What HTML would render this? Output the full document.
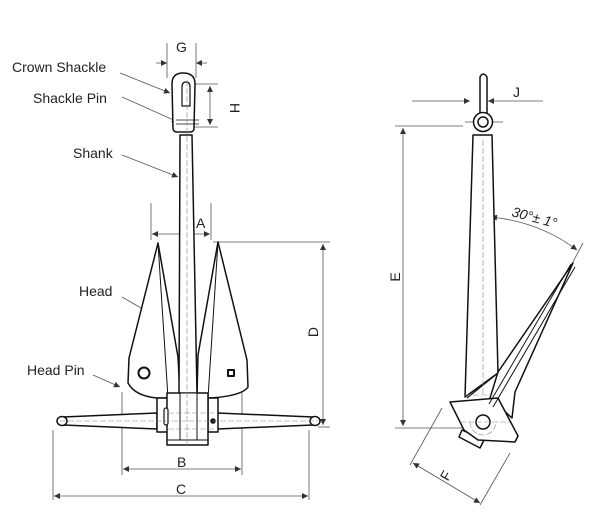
<!DOCTYPE html>
<html><head><style>
html,body{margin:0;padding:0;background:#fff;}
svg{display:block;}
text{font-family:"Liberation Sans",sans-serif;fill:#222;}
</style></head><body>
<svg width="600" height="519" viewBox="0 0 600 519" xmlns="http://www.w3.org/2000/svg">
<defs>
<marker id="ar" viewBox="0 0 10 10" refX="10" refY="5" markerWidth="9" markerHeight="6" orient="auto-start-reverse" markerUnits="userSpaceOnUse"><path d="M0,0 L10,5 L0,10 z" fill="#333"/></marker>
</defs>
<g stroke="#555" stroke-width="0.8" fill="none">
<line x1="167" y1="43" x2="167" y2="78"/><line x1="196" y1="43" x2="196" y2="78"/>
<line x1="156" y1="63" x2="167" y2="63" marker-end="url(#ar)"/>
<line x1="207" y1="63" x2="196" y2="63" marker-end="url(#ar)"/>
<line x1="190" y1="84" x2="218" y2="84"/><line x1="190" y1="127" x2="218" y2="127"/>
<line x1="210" y1="86" x2="210" y2="125" marker-start="url(#ar)" marker-end="url(#ar)"/>
<line x1="151" y1="203" x2="151" y2="240"/><line x1="211" y1="203" x2="211" y2="240"/>
<line x1="152" y1="234" x2="210" y2="234" marker-start="url(#ar)" marker-end="url(#ar)"/>
<line x1="213" y1="242" x2="330" y2="242"/><line x1="318" y1="427" x2="330" y2="427"/>
<line x1="323" y1="244" x2="323" y2="425" marker-start="url(#ar)" marker-end="url(#ar)"/>
<line x1="122" y1="392" x2="122" y2="475"/><line x1="242" y1="392" x2="242" y2="475"/>
<line x1="123" y1="469" x2="241" y2="469" marker-start="url(#ar)" marker-end="url(#ar)"/>
<line x1="53" y1="430" x2="53" y2="500"/><line x1="309" y1="430" x2="309" y2="500"/>
<line x1="54" y1="496" x2="308" y2="496" marker-start="url(#ar)" marker-end="url(#ar)"/>
<line x1="120" y1="73" x2="170" y2="93" marker-end="url(#ar)"/>
<line x1="122" y1="97" x2="178" y2="122" marker-end="url(#ar)"/>
<line x1="122" y1="155" x2="178" y2="177" marker-end="url(#ar)"/>
<line x1="122" y1="297" x2="148" y2="312" marker-end="url(#ar)"/>
<line x1="93" y1="375" x2="120" y2="387" marker-end="url(#ar)"/>
<line x1="412" y1="101" x2="470" y2="101" marker-end="url(#ar)"/>
<line x1="543" y1="101" x2="488" y2="101" marker-end="url(#ar)"/>
<line x1="465" y1="122" x2="503" y2="122"/>
<line x1="395" y1="126" x2="463" y2="126"/><line x1="395" y1="428" x2="462" y2="428"/>
<line x1="403" y1="128" x2="403" y2="426" marker-start="url(#ar)" marker-end="url(#ar)"/>
<path d="M491,217 Q540,222 577,250" marker-start="url(#ar)" marker-end="url(#ar)"/>
<line x1="583" y1="243" x2="566" y2="275"/>
<line x1="442" y1="408" x2="410" y2="465"/><line x1="510" y1="453" x2="480" y2="505"/>
<line x1="413" y1="463" x2="480" y2="503" marker-start="url(#ar)" marker-end="url(#ar)"/>
</g>
<g stroke="#111" stroke-width="1.5" fill="#fff" stroke-linejoin="round">
<path d="M158,243 L129,358 L128,383 Q135,396 157,398 L168,398 L180,395 L178,357 Z"/>
<path d="M218,242 L247,360 L248,387 Q242,396 210,398 L198,398 L197,395 L198,355 Z"/>
<path d="M158,243 L168,398 M218,242 L208,398" stroke-width="1"/>
<path d="M63,417 L157,413 L157,429 L63,425 Z"/>
<path d="M217,413 L313,417 L313,425 L217,429 Z"/>
<ellipse cx="62" cy="421" rx="5" ry="4.5"/>
<ellipse cx="315" cy="421" rx="5" ry="4.5"/>
<rect x="157" y="398" width="11" height="34"/>
<rect x="208" y="398" width="10" height="34"/>
<rect x="167" y="393" width="41" height="52"/>
<line x1="167" y1="440" x2="208" y2="440" stroke-width="1"/>
<path d="M180,135 L192,135 L197,393 L179,393 Z"/>
<rect x="180" y="393" width="17" height="47" stroke-width="1"/>
<path d="M173,128 L172,84 Q172,73 183,73 Q195,73 195,84 L194,128 Q194,132 190,132 L177,132 Q173,132 173,128 Z"/>
<path d="M182,106 L182,87 Q182,82 186,82 Q190,82 190,87 L190,106 Z" stroke-width="1.2"/>
<line x1="176" y1="120" x2="199" y2="120" stroke-width="0.8"/>
<line x1="176" y1="124" x2="199" y2="124" stroke-width="0.8"/>
<circle cx="144" cy="373" r="5.5" stroke-width="2"/>
<rect x="228" y="370" width="6" height="6" stroke-width="2"/>
<rect x="164" y="408" width="4" height="17" rx="2" stroke-width="1.2"/>
<circle cx="213" cy="421" r="2" fill="#111"/>
</g>
<g stroke="#888" stroke-width="0.6" stroke-dasharray="6,2" fill="none">
<line x1="187" y1="80" x2="187" y2="445"/>
<line x1="60" y1="421" x2="318" y2="421"/>
<line x1="168" y1="413" x2="215" y2="413"/><line x1="168" y1="429" x2="215" y2="429"/>
</g>
<g stroke="#111" stroke-width="1.5" fill="#fff" stroke-linejoin="round">
<path d="M473,135 L492,135 L498,373 L465,397 Z"/>
<path d="M480,113 L480,77 Q483,71 487,77 L487,113 Z"/>
<circle cx="483" cy="122" r="9.5"/>
<circle cx="483" cy="122" r="5"/>
<path d="M573,263 L515,392 L512,418 L490,398 L498,372 Z"/>
<path d="M462,430 L459,437 L480,448 L484,440 Z"/>
<path d="M450,402 L498,398 L518,436 L515,442 L478,440 L464,430 Z"/>
<path d="M575,267 L493,407 M571,264 L489,404" stroke-width="1" fill="none"/>
<line x1="467" y1="398" x2="498" y2="373" stroke-width="1.2"/>
<circle cx="483" cy="422" r="7"/>
</g>
<g stroke="#888" stroke-width="0.6" stroke-dasharray="6,2" fill="none">
<line x1="483" y1="140" x2="483" y2="395"/>
<line x1="465" y1="395" x2="498" y2="395"/>
<line x1="460" y1="422" x2="510" y2="422"/>
<path d="M470,422 A13,13 0 0 0 496,422"/>
</g>
<g font-size="14">
<text x="12" y="72">Crown Shackle</text>
<text x="33" y="103">Shackle Pin</text>
<text x="73" y="158">Shank</text>
<text x="79" y="296">Head</text>
<text x="27" y="375">Head Pin</text>
<text x="176" y="52">G</text>
<text x="196" y="228">A</text>
<text x="177" y="467">B</text>
<text x="176" y="494">C</text>
<text x="513" y="97">J</text>
<text transform="translate(230,108) rotate(90)" text-anchor="middle">H</text>
<text transform="translate(318,332) rotate(-90)" text-anchor="middle">D</text>
<text transform="translate(400,277) rotate(-90)" text-anchor="middle">E</text>
<text transform="translate(450,478) rotate(-60)" text-anchor="middle">F</text>
<text transform="translate(511,216) rotate(15)" font-style="italic">30°± 1°</text>
</g>
</svg>
</body></html>
